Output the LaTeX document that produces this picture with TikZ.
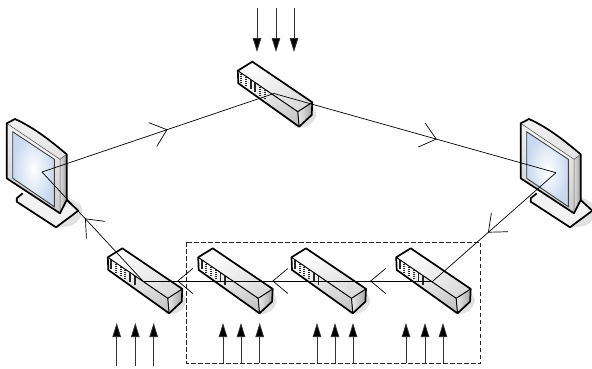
\documentclass[tikz,border=0pt]{standalone}
\usetikzlibrary{arrows.meta,decorations.markings}
\definecolor{scr}{RGB}{200,216,240}
\definecolor{shad}{RGB}{226,226,226}
\tikzset{
 x=1pt,y=-1pt,
 outline/.style={line width=1.7pt,line join=round,black},
 ring/.style={line width=.7pt,black,>={Straight Barb[length=15pt,width=25pt,line width=.7pt]}},
 feed/.style={line width=.8pt,black!80,-{Triangle[length=14pt,width=8.5pt,fill=black]}},
 boundary/.style={line width=.9pt,dash pattern=on 4.5pt off 2.5pt,black!85},
 barb/.style={postaction={decorate},decoration={markings,#1}},
 pics/switchdev/.style={code={
  % origin = apex of the top face
  \fill[shad] (45,38) .. controls (60,42) and (68,50) .. (62,58) .. controls (58,65) and (50,67) .. (42,65) -- cycle;
  \shade[top color=white,bottom color=black!14,shading angle=35] (-14.5,9) -- (0,0) -- (60,40.6) -- (45.5,50) -- cycle;
  \shade[left color=white,right color=black!22,shading angle=20] (-14.5,9) -- (45.5,50) -- (46.8,65) -- (-14,21.6) -- cycle;
  \shade[left color=black!8,right color=black!35] (45.5,50) -- (60,40.6) -- (59.4,53.3) -- (46.8,65) -- cycle;
  \foreach \i in {0,...,5}
   \draw[line width=1.9pt,black!85,dash pattern=on 1.4pt off .6pt] (-11+\i*4.7,12+\i*3.2) -- (-11+\i*4.7,20.5+\i*3.2);
  \draw[outline] (-14.5,9) -- (0,0) -- (60,40.6) -- (59.4,53.3) -- (46.8,65) -- (-14,21.6) -- cycle;
  \draw[line width=1pt,line join=round] (-14.5,9) -- (45.5,50) -- (46.8,65);
  \draw[line width=1pt] (45.5,50) -- (60,40.6);
 }},
 pics/monitordev/.style={code={
  \fill[shad] (66,196) -- (80,204) .. controls (86,212) and (80,222) .. (70,226) -- (56,228) -- cycle;
  \fill[black!5] (22.7,193.3) -- (16.7,198.3) -- (16.7,201.7) -- (56,227.3) -- (78.3,210.7) -- (66.7,200) -- cycle;
  \draw[outline] (22.7,193.3) -- (16.7,198.3) -- (16.7,201.7) -- (56,227.3) -- (78.3,210.7) -- (66.7,200);
  \shade[left color=black!12,right color=black!40] (60,159.3) -- (66.7,154.3) -- (66.7,200) -- (60,213.3) -- cycle;
  \shade[top color=black!5,bottom color=black!20] (6.7,123.3) -- (15,119) .. controls (35,128) and (52,142) .. (66.7,154.3) -- (60,159.3) -- (60,213.3) -- (6.7,178.3) -- cycle;
  \path[fill=black!4] (11,128) -- (58,159) -- (54.3,159.3) -- (12.7,131.7) -- cycle;
  \shade[inner color=white,outer color=scr] (12.7,131.7) -- (54.3,159.3) -- (54.3,206.7) -- (12.7,178.3) -- cycle;
  \draw[line width=.9pt,black!75] (12.7,131.7) -- (54.3,159.3) -- (54.3,206.7) -- (12.7,178.3) -- cycle;
  \draw[line width=.5pt,black!70] (6.7,123.3) -- (60,159.3) -- (60,213.3);
  \draw[line width=.5pt,black!70] (60,159.3) -- (66.7,154.3);
  \draw[outline] (6.7,123.3) -- (15,119) .. controls (35,128) and (52,142) .. (66.7,154.3) -- (66.7,200) -- (60,213.3) -- (6.7,178.3) -- cycle;
 }}
}
\begin{document}
\begin{tikzpicture}
\useasboundingbox (0,0) rectangle (592,368);
\fill[white] (0,0) rectangle (592,368);

\pic at (0,0) {monitordev};
\pic at (514,0) {monitordev};
\pic at (252.3,61.7) {switchdev};
\pic at (122.3,248.3) {switchdev};
\pic at (212.7,248.3) {switchdev};
\pic at (306,248.3) {switchdev};
\pic at (410.7,248.3) {switchdev};

\node[coordinate] (mL) at (42,172) {};
\node[coordinate] (mR) at (556,172.7) {};
\node[coordinate] (sT) at (274,93.5) {};
\node[coordinate] (s1) at (143,281) {};
\node[coordinate] (s4) at (433,281) {};

\draw[boundary] (186.5,242) rectangle (480.5,363.5);

\draw[ring,barb={mark=at position .541 with {\arrow{>}}}] (mL) -- (sT);
\draw[ring,barb={mark=at position .577 with {\arrow{>}}}] (sT) -- (mR);
\draw[ring,barb={mark=at position .553 with {\arrow{>}}}] (mR) -- (s4);
\draw[ring,barb={mark=at position .217 with {\arrow{>}},mark=at position .554 with {\arrow{>}},mark=at position .882 with {\arrow{>}}}] (s4) -- (s1);
\draw[ring,barb={mark=at position .574 with {\arrow{>}}}] (s1) -- (mL);

\foreach \x in {257,276,294}
 \draw[feed] (\x,8) -- (\x,52);
\foreach \x in {116.7,135.3,153.7}
 \draw[feed] (\x,366) -- (\x,323);
\foreach \x in {223,241,259.7,317,335,353,406,425,443}
 \draw[feed] (\x,363) -- (\x,323);
\end{tikzpicture}
\end{document}
